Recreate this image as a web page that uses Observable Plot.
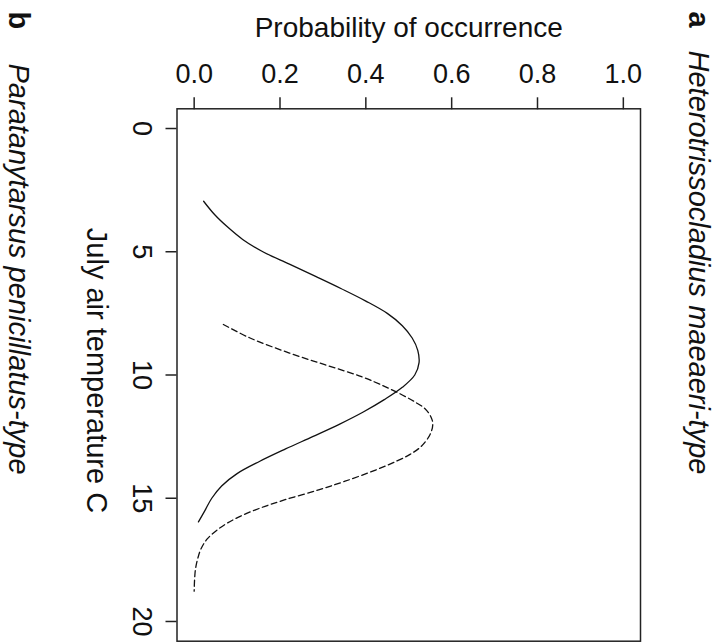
<!DOCTYPE html>
<html>
<head>
<meta charset="utf-8">
<script src="https://cdn.jsdelivr.net/npm/d3@7"></script>
<script src="https://cdn.jsdelivr.net/npm/@observablehq/plot@0.6"></script>
<style>
  html, body { margin: 0; padding: 0; background: #fff; }
  #chart svg { display: block; }
</style>
</head>
<body>
<div id="chart"></div>
<script>
// Tick values
const probTicks = [0, 0.2, 0.4, 0.6, 0.8, 1.0];
const tempTicks = [0, 5, 10, 15, 20];

// Axis labels and panel titles
const probLabel = "Probability of occurrence";
const tempLabel = "July air temperature C";
const panelA = "a";
const panelATitle = "Heterotrissocladius maeaeri-type";
const panelB = "b";
const panelBTitle = "Paratanytarsus penicillatus-type";

// Solid curve (Heterotrissocladius maeaeri-type)
const heteroTemp = [2.95, 3.5, 4.0, 4.5, 5.0, 5.5, 6.0, 6.5, 7.0, 7.5, 8.0, 8.5, 9.0, 9.5, 10.0, 10.5, 11.0, 11.5, 12.0, 12.5, 13.0, 13.5, 14.0, 14.5, 15.0, 15.5, 15.96];
const heteroProb = [0.022, 0.048, 0.078, 0.113, 0.160, 0.222, 0.283, 0.343, 0.400, 0.450, 0.485, 0.508, 0.521, 0.524, 0.514, 0.485, 0.443, 0.394, 0.338, 0.276, 0.213, 0.153, 0.100, 0.064, 0.041, 0.025, 0.010];

// Dashed curve (Paratanytarsus penicillatus-type)
const paraTemp = [7.95, 8.49, 9.11, 9.59, 10.07, 10.48, 10.82, 11.10, 11.37, 11.71, 11.99, 12.40, 12.88, 13.22, 13.49, 13.84, 14.32, 14.66, 15.07, 15.41, 15.82, 16.23, 16.64, 17.05, 17.47, 17.88, 18.29, 18.77];
const paraProb = [0.068, 0.129, 0.222, 0.306, 0.390, 0.446, 0.486, 0.515, 0.538, 0.552, 0.556, 0.550, 0.530, 0.503, 0.472, 0.425, 0.350, 0.290, 0.210, 0.152, 0.097, 0.058, 0.031, 0.016, 0.008, 0.003, 0.001, 0.000];

const hetero = heteroTemp.map((t, i) => ({temp: t, prob: heteroProb[i]}));
const para = paraTemp.map((t, i) => ({temp: t, prob: paraProb[i]}));

const font = "'Liberation Sans', Arial, Helvetica, sans-serif";

const chart = Plot.plot({
  width: 718,
  height: 643,
  marginLeft: 176.5,
  marginRight: 78,
  marginTop: 108.3,
  marginBottom: 2.3,
  style: {fontFamily: font, background: "#fff", color: "#111"},
  x: {domain: [-0.04, 1.04]},
  y: {domain: [-0.8, 20.8], reverse: true},
  marks: [
    Plot.frame({stroke: "#222", strokeWidth: 1.5}),
    Plot.axisX({anchor: "top", ticks: probTicks, tickSize: 12, tickPadding: 14,
      tickFormat: d3.format(".1f"), fontSize: 27, label: null, strokeWidth: 1.5, stroke: "#222"}),
    Plot.axisY({anchor: "left", ticks: tempTicks, tickSize: 11, tickFormat: () => "",
      label: null, strokeWidth: 1.5, stroke: "#222"}),
    Plot.text(tempTicks, {y: d => d, text: d => String(d), frameAnchor: "left", dx: -44,
      rotate: 90, textAnchor: "middle", lineAnchor: "bottom", fontSize: 27, fill: "#111"}),
    Plot.text([probLabel], {text: d => d, frameAnchor: "top", dy: -71.6, lineAnchor: "bottom",
      fontSize: 28, fill: "#111"}),
    Plot.text([tempLabel], {text: d => d, frameAnchor: "top-left", dx: 86 - 176.5, dy: 370 - 108.3,
      rotate: 90, textAnchor: "middle", lineAnchor: "bottom", fontSize: 29, fill: "#111"}),
    Plot.text([panelA], {text: d => d, frameAnchor: "top-right", dx: 688 - 640, dy: 11 - 108.3,
      rotate: 90, textAnchor: "start", lineAnchor: "bottom", fontSize: 29, fontWeight: "bold", fill: "#111"}),
    Plot.text([panelATitle], {text: d => d, frameAnchor: "top-right", dx: 688 - 640, dy: 50 - 108.3,
      rotate: 90, textAnchor: "start", lineAnchor: "bottom", fontSize: 29, fontStyle: "italic", fill: "#111"}),
    Plot.text([panelB], {text: d => d, frameAnchor: "top-left", dx: 8.5 - 176.5, dy: 11 - 108.3,
      rotate: 90, textAnchor: "start", lineAnchor: "bottom", fontSize: 29, fontWeight: "bold", fill: "#111"}),
    Plot.text([panelBTitle], {text: d => d, frameAnchor: "top-left", dx: 8.5 - 176.5, dy: 63 - 108.3,
      rotate: 90, textAnchor: "start", lineAnchor: "bottom", fontSize: 29, fontStyle: "italic", fill: "#111"}),
    Plot.line(hetero, {x: "prob", y: "temp", curve: "catmull-rom", stroke: "#111", strokeWidth: 1.3}),
    Plot.line(para, {x: "prob", y: "temp", curve: "catmull-rom", stroke: "#111", strokeWidth: 1.3,
      strokeDasharray: "6,3.5"})
  ]
});
document.getElementById("chart").appendChild(chart);
</script>
</body>
</html>
